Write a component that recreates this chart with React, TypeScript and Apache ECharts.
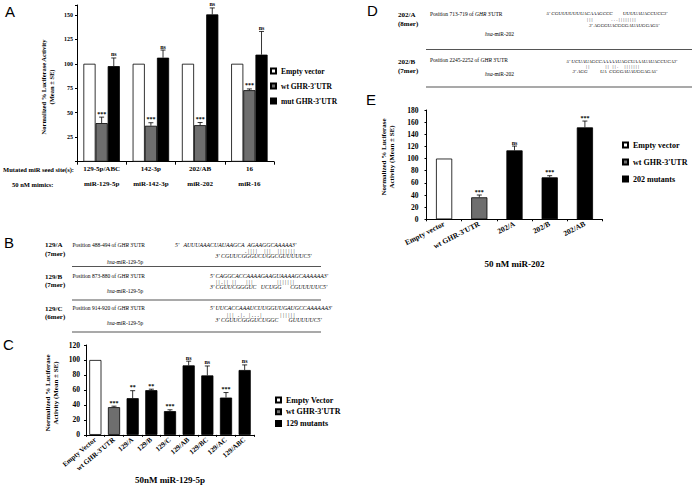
import React, { useEffect, useRef } from "react";
import * as echarts from "echarts";

const SERIF = '"Liberation Serif", "Times New Roman", serif';
const SANS = '"Liberation Sans", Arial, sans-serif';

// Panel A
const catsA = ["129-5p/ABC", "142-3p", "202/AB", "16"];
const mimicsA = ["miR-129-5p", "miR-142-3p", "miR-202", "miR-16"];
const emptyA = [100, 100, 100, 100];
const wtA = [39.4, 36.7, 37.3, 73];
const wtErrA = [45.5, 39.8, 40, 74.3];
const wtSigA = ["***", "***", "***", "***"];
const mutA = [97.6, 106.2, 150.4, 109.3];
const mutErrA = [105.9, 114, 157, 133];
const mutSigA = ["ns", "ns", "ns", "ns"];

// Panel C
const catsC = ["Empty Vector", "wt GHR-3'UTR", "129/A", "129/B", "129/C", "129/AB", "129/BC", "129/AC", "129/ABC"];
const groupC = [0, 1, 2, 2, 2, 2, 2, 2, 2];
const valsC = [100, 37, 49, 59.7, 31.7, 92.8, 79.4, 49.8, 86.6];
const errC = [null, 38.3, 59, 61, 33.5, 98.4, 92, 56.5, 93.4];
const sigC = ["", "***", "**", "**", "***", "ns", "ns", "***", "ns"];
const namesC = ["Empty Vector", "wt GHR-3'UTR", "129 mutants"];

// Panel E
const catsE = ["Empty vector", "wt GHR-3'UTR", "202/A", "202/B", "202/AB"];
const groupE = [0, 1, 2, 2, 2];
const valsE = [100, 36.2, 113.5, 69.1, 151.4];
const errE = [null, 40, 120.6, 71.8, 161.8];
const sigE = ["", "***", "ns", "***", "***"];
const namesE = ["Empty vector", "wt GHR-3'UTR", "202 mutants"];

const COLORS = ["#ffffff", "#6e6e6e", "#000000"];

function errSeries(xi: number, yi: number, vals: number[], errs: (number | null)[], sigs: string[], slot: number, gapFrac: number, nPerBand: number) {
  const data: any[] = [];
  vals.forEach((v, i) => {
    if (errs[i] != null) data.push([i, v, errs[i], i]);
  });
  return {
    type: "custom",
    xAxisIndex: xi,
    yAxisIndex: yi,
    encode: { x: 0, y: [1, 2] },
    z: 5,
    silent: true,
    data,
    renderItem: (params: any, api: any) => {
      const i = api.value(0);
      const v = api.value(1);
      const e = api.value(2);
      const idx = api.value(3);
      const band = api.size([1, 0])[0];
      const barW = (band * (1 - gapFrac)) / nPerBand;
      const b = api.coord([i, v]);
      const t = api.coord([i, e]);
      const x = b[0] + slot * barW;
      const cap = 2.5;
      return {
        type: "group",
        children: [
          { type: "line", shape: { x1: x, y1: b[1], x2: x, y2: t[1] }, style: { stroke: "#000", lineWidth: 0.8 } },
          { type: "line", shape: { x1: x - cap, y1: t[1], x2: x + cap, y2: t[1] }, style: { stroke: "#000", lineWidth: 0.8 } },
          {
            type: "text",
            x: x,
            y: t[1] - 0.5,
            style: { text: sigs[idx], align: "center", verticalAlign: "bottom", fontSize: 6, fontFamily: SERIF, fontWeight: "bold", fill: "#000" },
          },
        ],
      };
    },
  };
}

function txt(x: number, y: number, text: string, size: number, opts: any = {}) {
  return {
    type: "text",
    x,
    y,
    rotation: opts.rotation || 0,
    style: {
      text,
      fontSize: size,
      fontFamily: opts.family || SERIF,
      fontWeight: opts.bold ? "bold" : "normal",
      fontStyle: opts.italic ? "italic" : "normal",
      fill: opts.fill || "#000",
      align: opts.align || "left",
      verticalAlign: opts.valign || "middle",
      textAlign: opts.align || "left",
      textVerticalAlign: opts.valign || "middle",
      rich: {
        i: { fontStyle: "italic", fontSize: size, fontFamily: opts.family || SERIF, fill: "#000", color: "#000" },
      },
    },
  };
}

// base-pairing marks: one mark per nucleotide position, spaced out
function pairs(x: number, y: number, s: string, size: number) {
  return txt(x, y, s.split("").join(" "), size, { fill: "#222" });
}

function sep(x1: number, x2: number, y: number) {
  return { type: "line", shape: { x1, y1: y, x2, y2: y }, style: { stroke: "#555", lineWidth: 1.2 } };
}

const seqB = 5.8;
const seqD = 5;
const graphics: any[] = [
  // panel letters
  txt(5, 4, "A", 15, { family: SANS, valign: "top" }),
  txt(4, 235, "B", 15, { family: SANS, valign: "top" }),
  txt(3, 337, "C", 15, { family: SANS, valign: "top" }),
  txt(367, 3, "D", 15, { family: SANS, valign: "top" }),
  txt(366, 92, "E", 15, { family: SANS, valign: "top" }),
  // panel A side labels
  txt(74, 169, "Mutated miR seed site(s):", 6.5, { bold: true, align: "right" }),
  txt(12, 184.5, "50 nM mimics:", 6.5, { bold: true }),
  // y titles
  txt(43, 87, "Normalized % Luciferase Activity", 6.5, { bold: true, align: "center", rotation: Math.PI / 2 }),
  txt(51.5, 87, "(Mean \u00B1 SE)", 6.5, { bold: true, align: "center", rotation: Math.PI / 2 }),
  txt(48, 393, "Normalized % Luciferase", 7, { bold: true, align: "center", rotation: Math.PI / 2 }),
  txt(56, 393, "Activity (Mean \u00B1 SE)", 7, { bold: true, align: "center", rotation: Math.PI / 2 }),
  txt(383.5, 157, "Normalized % Luciferase", 7, { bold: true, align: "center", rotation: Math.PI / 2 }),
  txt(392, 157, "Activity (Mean \u00B1 SE)", 7, { bold: true, align: "center", rotation: Math.PI / 2 }),

  // Panel B
  txt(45, 245, "129/A", 7, { bold: true }),
  txt(45, 253.5, "(7mer)", 7, { bold: true }),
  txt(72.5, 245, "Position 488-494 of {i|GHR} 3'UTR", 5.5),
  txt(107, 261.5, "{i|hsa}-miR-129-5p", 5.5),
  txt(175, 245, "5'   AUUUAAACUAUAAGCA  AGAAGGCAAAAA3'", seqB, { italic: true }),
  pairs(245, 250.5, ".||||  |||  |||||||", seqB),
  txt(215.5, 255.5, "3' CGUUCGGGUCUGGCGUUUUUC5'", seqB, { italic: true }),
  sep(72, 321, 266.5),
  txt(45, 276.5, "129/B", 7, { bold: true }),
  txt(45, 285, "(7mer)", 7, { bold: true }),
  txt(72.5, 276, "Position 873-880 of {i|GHR} 3'UTR", 5.5),
  txt(107, 291, "{i|hsa}-miR-129-5p", 5.5),
  txt(210, 276, "5' CAGGCACCAAAAGAAGUAAAAGCAAAAAA3'", seqB, { italic: true }),
  pairs(216, 281.5, "||.|| ||   |||        |||||||", seqB),
  txt(210, 287, "3' CGUUCGGGUC   UCUGG      CGUUUUUC5'", seqB, { italic: true }),
  sep(72, 321, 300),
  txt(45, 308.5, "129/C", 7, { bold: true }),
  txt(45, 317, "(6mer)", 7, { bold: true }),
  txt(72.5, 308.3, "Position 914-920 of {i|GHR} 3'UTR", 5.5),
  txt(107, 323, "{i|hsa}-miR-129-5p", 5.5),
  txt(210, 308.3, "5' UUCACCAAAUCUUGGUUGAUGCCAAAAAA3'", seqB, { italic: true }),
  pairs(227, 314.5, "||| .|. |...|      ||||||", seqB),
  txt(215.5, 319.5, "3' CGUUCGGGUCUGGC       GUUUUUC5'", seqB, { italic: true }),
  sep(72, 321, 332),

  // Panel D
  txt(398, 15, "202/A", 7, { bold: true }),
  txt(398, 24, "(8mer)", 7, { bold: true }),
  txt(430, 13.5, "Position 713-719 of {i|GHR} 3'UTR", 5.5),
  txt(485, 33.5, "{i|hsa}-miR-202", 5.5),
  txt(546.5, 13.5, "5' CGUUUUUUUACAAAGCCC        UUUUAUACCUCC3'", seqD, { italic: true }),
  pairs(587, 19.3, "|||       ...||||||||", seqD),
  txt(589, 25, "3' AGGGUACGGGAUAUGGAG5'", seqD, { italic: true }),
  sep(426, 692, 49.5),
  txt(398, 61.7, "202/B", 7, { bold: true }),
  txt(398, 71, "(7mer)", 7, { bold: true }),
  txt(430, 60, "Position 2245-2252 of {i|GHR} 3'UTR", 5.5),
  txt(485, 74, "{i|hsa}-miR-202", 5.5),
  txt(566.5, 61, "5' UCUAUAGCCAAAAAUAGCUAAAUAUACCUCA3'", seqD, { italic: true }),
  pairs(586, 66.5, "||      || ||.  |||||||", seqD),
  txt(572.5, 71.7, "3' AGG          UA  CGGGAUAUGGAGA5'", seqD, { italic: true }),
  sep(426, 692, 87),
];

const axisLabelBase = { color: "#000", fontFamily: SERIF, fontWeight: "bold", fontSize: 7 };
const axisLineBase = { show: true, lineStyle: { color: "#000", width: 1 } };

function legendCfg(left: number, top: number, data: string[], fs: number, gap: number) {
  return {
    left,
    top,
    padding: 0,
    orient: "vertical",
    data,
    icon: "rect",
    itemWidth: 5,
    itemHeight: 5,
    itemGap: gap,
    selectedMode: false,
    textStyle: { color: "#000", fontFamily: SERIF, fontWeight: "bold", fontSize: fs, lineHeight: 10 },
  };
}

function groupSeries(prefix: string, names: string[], groups: number[], vals: number[], xi: number, yi: number, gap: string) {
  return names.map((n, g) => ({
    type: "bar",
    name: n,
    xAxisIndex: xi,
    yAxisIndex: yi,
    stack: prefix,
    barCategoryGap: gap,
    itemStyle: { color: COLORS[g], borderColor: "#000", borderWidth: 0.8 },
    data: vals.map((v, i) => (groups[i] === g ? v : "-")),
  }));
}

export default function App() {
  const ref = useRef<HTMLDivElement>(null);
  useEffect(() => {
    const chart = echarts.init(ref.current!, null, { renderer: "svg" });
    const option: any = {
      animation: false,
      backgroundColor: "#fff",
      textStyle: { fontFamily: SERIF },
      grid: [
        { left: 77, top: 5, width: 197, height: 156.7 },
        { left: 86, top: 345, width: 168, height: 96.7 },
        { left: 426.5, top: 110, width: 176, height: 109.3 },
      ],
      xAxis: [
        {
          gridIndex: 0,
          type: "category",
          data: catsA,
          axisLine: axisLineBase,
          axisTick: { show: true, length: 3, lineStyle: { color: "#000" } },
          axisLabel: {
            ...axisLabelBase,
            margin: 0,
            lineHeight: 15,
            formatter: (v: string, i: number) => v + "\n" + mimicsA[i],
          },
        },
        {
          gridIndex: 1,
          type: "category",
          data: catsC,
          axisLine: axisLineBase,
          axisTick: { show: true, length: 2, lineStyle: { color: "#000" } },
          axisLabel: { ...axisLabelBase, rotate: 40, margin: 4, interval: 0 },
          name: "50nM miR-129-5p",
          nameLocation: "middle",
          nameGap: 37,
          nameTextStyle: { color: "#000", fontFamily: SERIF, fontWeight: "bold", fontSize: 9 },
        },
        {
          gridIndex: 2,
          type: "category",
          data: catsE,
          axisLine: axisLineBase,
          axisTick: { show: true, length: 2, lineStyle: { color: "#000" } },
          axisLabel: { ...axisLabelBase, rotate: 27, margin: 4, interval: 0, fontSize: 7.5 },
          name: "50 nM miR-202",
          nameLocation: "middle",
          nameGap: 40,
          nameTextStyle: { color: "#000", fontFamily: SERIF, fontWeight: "bold", fontSize: 9 },
        },
      ],
      yAxis: [
        {
          gridIndex: 0,
          type: "value",
          min: 0,
          max: 160,
          interval: 25,
          splitLine: { show: false },
          axisLine: axisLineBase,
          axisTick: { show: true, length: 2, lineStyle: { color: "#000" } },
          axisLabel: { ...axisLabelBase, fontSize: 6, margin: 4, formatter: (v: number) => (v === 0 || v === 160 ? "" : String(v)) },
        },
        {
          gridIndex: 1,
          type: "value",
          min: 0,
          max: 120,
          interval: 20,
          splitLine: { show: false },
          axisLine: axisLineBase,
          axisTick: { show: true, length: 2, lineStyle: { color: "#000" } },
          axisLabel: { ...axisLabelBase, fontSize: 7.5, margin: 6 },
        },
        {
          gridIndex: 2,
          type: "value",
          min: 0,
          max: 180,
          interval: 20,
          splitLine: { show: false },
          axisLine: axisLineBase,
          axisTick: { show: true, length: 2, lineStyle: { color: "#000" } },
          axisLabel: { ...axisLabelBase, fontSize: 7.5, margin: 8 },
        },
      ],
      legend: [
        legendCfg(270, 66, ["Empty vector", "wt GHR-3'UTR", "mut GHR-3'UTR"], 7.5, 5),
        legendCfg(275, 395, ["Empty Vector", "wt GHR-3'UTR", "129 mutants"], 8, 1.7),
        legendCfg(622, 140, ["Empty vector", "wt GHR-3'UTR", "202 mutants"], 8, 7),
      ],
      series: [
        {
          type: "bar",
          name: "Empty vector",
          xAxisIndex: 0,
          yAxisIndex: 0,
          barGap: "0%",
          barCategoryGap: "26%",
          itemStyle: { color: COLORS[0], borderColor: "#000", borderWidth: 0.8 },
          data: emptyA,
        },
        {
          type: "bar",
          name: "wt GHR-3'UTR",
          xAxisIndex: 0,
          yAxisIndex: 0,
          barGap: "0%",
          barCategoryGap: "26%",
          itemStyle: { color: COLORS[1], borderColor: "#000", borderWidth: 0.8 },
          data: wtA,
        },
        {
          type: "bar",
          name: "mut GHR-3'UTR",
          xAxisIndex: 0,
          yAxisIndex: 0,
          barGap: "0%",
          barCategoryGap: "26%",
          itemStyle: { color: COLORS[2], borderColor: "#000", borderWidth: 0.8 },
          data: mutA,
        },
        errSeries(0, 0, wtA, wtErrA, wtSigA, 0, 0.26, 3),
        errSeries(0, 0, mutA, mutErrA, mutSigA, 1, 0.26, 3),
        ...groupSeries("c", namesC, groupC, valsC, 1, 1, "35%"),
        errSeries(1, 1, valsC, errC, sigC, 0, 0.35, 1),
        ...groupSeries("e", namesE, groupE, valsE, 2, 2, "54%"),
        errSeries(2, 2, valsE, errE, sigE, 0, 0.54, 1),
      ],
      graphic: graphics,
    };
    chart.setOption(option);
    return () => chart.dispose();
  }, []);
  return <div ref={ref} style={{ position: "absolute", left: 0, top: 0, width: 693, height: 485 }} />;
}
